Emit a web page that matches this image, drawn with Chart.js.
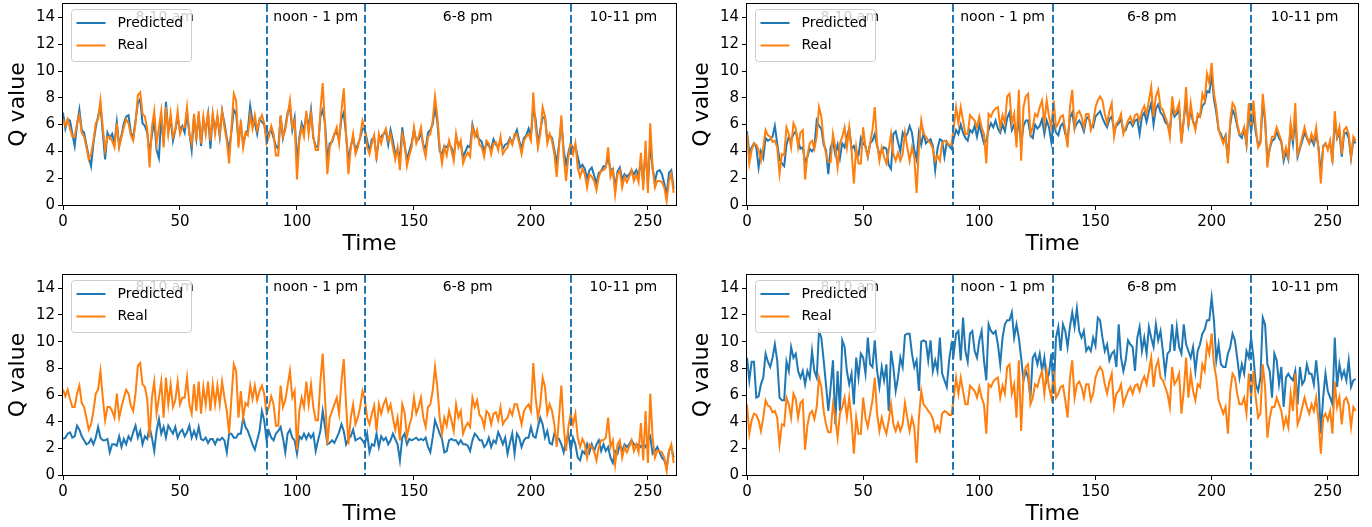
<!DOCTYPE html>
<html>
<head>
<meta charset="utf-8">
<script src="https://cdn.jsdelivr.net/npm/chart.js@4.4.1/dist/chart.umd.min.js"></script>
<style>
  html, body { margin: 0; padding: 0; background: #fff; }
  body { width: 1372px; height: 527px; position: relative; overflow: hidden; }
  canvas { position: absolute; }
</style>
</head>
<body>
<canvas id="tl" width="686" height="257" style="left:0;top:0"></canvas>
<canvas id="tr" width="686" height="257" style="left:684px;top:0"></canvas>
<canvas id="bl" width="686" height="256" style="left:0;top:271px"></canvas>
<canvas id="br" width="686" height="256" style="left:684px;top:271px"></canvas>
<script>
// Real Q values, left column (same series in both left panels)
const realLeft = [
  6.4,5.9,6.4,5.7,5.1,5.1,6.1,6.7,5.4,5.1, 4.3,3.4,3.8,4.8,6.1,6.4,7.8,5.8,4.1,5.1,
  5.1,4.8,4.3,6.1,4.3,5.1,5.8,6.4,6.1,5.2, 4.8,6.1,8.2,8.4,6.8,6.6,5.7,2.8,5.8,7.0,
  4.6,5.8,7.0,4.3,7.3,5.3,6.8,5.1,5.6,7.0, 5.3,5.8,5.8,7.3,5.3,4.6,6.8,4.8,7.0,4.6,
  6.6,5.3,7.0,4.8,6.8,5.3,6.7,5.3,7.0,5.8, 4.8,3.1,5.8,8.3,7.8,4.3,6.3,4.3,5.4,5.2,
  6.7,5.7,6.7,5.6,6.3,6.7,6.1,4.6,
  5.1,5.9,5.3,3.7,3.7,6.7,5.1,5.6,6.7,7.8, 5.8,6.3,1.9,4.8,5.8,5.1,7.0,5.3,6.8,5.1,
  4.1,4.1,7.0,9.1,5.8,2.3,4.3,4.8,5.3,5.8, 4.6,7.0,8.7,5.3,2.3,4.3,5.3,3.8,4.3,5.1,
  6.3,5.7,4.3,3.8,4.6,5.2,3.3,5.3,4.6,5.3, 5.7,4.8,5.3,4.3,3.4,4.3,2.6,5.3,4.7,2.9,
  3.7,4.3,5.8,4.6,5.1,5.8,4.3,3.6,5.1,5.3, 6.3,8.1,6.6,4.3,3.1,4.3,3.7,4.8,4.1,3.3,
  5.3,4.3,4.8,3.1,3.6,3.9,
  3.6,5.8,5.1,5.6,4.5,4.3,3.6,4.8,4.6,3.8, 4.6,4.7,4.1,5.1,3.8,4.1,4.3,4.9,4.5,5.3,
  5.3,4.6,3.8,4.8,5.1,5.3,4.8,8.4,5.8,4.3, 5.3,7.3,6.6,4.6,5.3,4.8,3.8,2.1,4.3,6.7,
  3.6,1.8,3.6,4.6,3.8,4.6,2.8,2.1,2.7,2.3, 1.3,2.3,2.1,1.8,1.1,2.1,2.6,2.6,2.8,4.3,
  2.1,2.6,0.8,2.3,2.6,1.3,2.1,1.7,2.1,2.6, 1.8,2.3,1.7,3.9,1.1,4.8,0.9,6.1,2.8,1.3,
  1.8,1.8,1.7,1.3,0.3,1.8,2.3,0.9
];

// Predicted, top-left panel
const predTopLeft = [
  6.9,5.7,6.4,6.3,5.3,4.4,6.0,7.1,5.6,5.4, 4.5,3.6,2.9,4.6,5.8,6.6,7.4,5.4,3.4,5.4,
  5.0,5.3,4.6,6.2,4.4,5.2,6.1,6.6,6.7,5.4, 5.0,6.3,7.6,7.9,6.1,5.9,5.4,3.9,5.2,6.3,
  4.1,3.5,6.6,4.6,7.7,5.5,6.4,4.8,5.6,6.5, 5.6,5.9,5.4,6.8,5.4,4.1,6.6,5.0,6.7,4.4,
  6.3,5.6,6.8,4.2,6.7,5.6,6.5,5.1,7.0,6.1, 5.0,4.1,5.5,7.1,6.8,4.8,6.0,4.5,5.3,5.6,
  7.4,6.2,6.1,5.3,6.4,6.2,6.0,5.0,
  5.4,5.6,5.0,4.4,4.2,6.6,5.0,5.8,6.9,7.3, 5.6,6.5,3.2,5.0,6.1,5.6,6.7,5.8,7.1,5.0,
  4.4,4.3,6.6,7.1,6.1,3.4,4.6,4.7,5.3,5.4, 4.9,6.4,6.9,5.2,3.3,4.4,5.0,4.1,4.5,5.0,
  5.7,5.6,4.8,4.0,4.9,5.0,3.6,4.9,5.1,5.3, 5.5,4.5,5.6,4.8,3.8,4.1,3.5,5.8,4.4,3.4,
  4.0,4.6,5.6,4.8,4.9,5.4,4.5,4.2,5.4,5.6, 6.0,7.3,6.2,4.0,3.8,4.4,4.3,4.6,4.3,3.6,
  5.0,4.5,4.6,3.6,4.0,4.4,
  4.3,6.0,5.3,5.1,4.9,4.7,3.9,4.7,4.4,4.2, 4.9,4.5,4.4,4.8,4.2,4.5,4.6,5.0,4.6,5.1,
  5.6,4.8,4.2,5.0,5.2,5.7,5.2,7.2,6.4,4.5, 5.6,6.5,6.6,4.9,5.2,5.0,4.1,3.1,4.5,6.2,
  4.1,3.0,3.9,4.6,4.2,4.4,3.6,2.8,3.0,2.7, 2.0,2.6,2.8,2.2,1.6,2.4,2.5,2.9,2.9,3.6,
  2.6,2.7,1.3,2.5,2.8,1.9,2.3,2.1,2.3,2.6, 2.3,2.6,2.2,3.3,1.7,4.1,1.6,4.6,2.7,1.8,
  2.5,2.6,2.3,1.6,0.8,2.4,2.6,1.2
];

// Predicted, bottom-left panel
const predBottomLeft = [
  2.7,2.8,3.1,3.2,2.8,2.9,3.7,3.4,2.9,2.6, 2.3,2.4,2.7,2.3,2.8,3.6,2.8,2.6,2.6,2.7,
  1.7,2.3,2.3,2.2,2.9,2.1,2.7,2.3,2.9,2.6, 3.2,3.7,2.8,3.3,2.3,2.9,2.7,3.6,2.8,1.8,
  3.3,4.2,3.1,3.6,2.8,3.7,3.4,3.1,3.6,2.8, 3.2,3.4,2.9,3.2,3.7,2.8,3.3,2.8,
  3.6,2.7,2.6,2.8,2.4,2.7,2.7,2.3,2.7,2.6, 2.8,2.6,1.7,3.1,3.1,2.8,2.8,3.1,3.1,4.3,
  3.6,3.3,2.8,2.3,1.9,2.6,3.3,4.8,4.1,2.6,
  3.3,2.8,2.6,3.1,3.3,3.6,2.8,1.7,3.1,3.4, 2.8,2.6,1.6,2.9,2.7,3.1,2.7,3.1,2.8,3.1,
  1.8,2.6,3.3,4.8,3.6,2.3,2.4,2.6,2.4,2.8, 3.2,3.8,3.3,2.3,2.7,2.9,3.4,2.6,2.7,2.8,
  2.6,2.3,3.1,1.7,2.3,2.2,3.1,2.1,2.9,2.6, 2.8,2.3,2.6,3.1,2.7,2.3,1.1,2.8,3.1,2.3,
  2.7,2.6,2.7,2.8,2.6,2.7,2.6,2.8,2.1,1.7, 2.8,4.1,3.6,3.1,2.7,1.7,1.8,2.6,2.7,2.6,
  2.6,2.3,2.6,2.3,2.3,2.2,
  1.8,2.6,3.1,2.9,2.6,2.6,2.1,2.3,2.8,2.1, 2.6,2.4,3.2,2.8,2.3,2.8,1.6,2.4,3.1,1.6,
  3.1,2.8,2.1,2.6,2.8,2.8,3.6,2.9,2.8,3.6, 4.3,3.8,2.8,3.3,2.4,2.3,3.1,2.8,2.7,2.3,
  1.7,2.6,3.1,1.8,2.8,2.3,1.3,1.1,1.8,1.6, 2.3,1.7,2.3,1.8,2.3,2.6,1.8,2.3,1.8,2.1,
  1.3,0.9,1.8,1.6,2.3,1.8,2.3,2.1,2.3,2.6, 2.3,2.2,2.3,2.1,2.3,2.1,2.6,2.9,1.6,1.8,
  2.1,1.7,1.3,1.1,0.6,1.8,2.1,1.3
];

// Real Q values, right column (same series in both right panels)
const realRight = [
  5.3,3.1,4.1,4.6,4.5,4.1,3.3,4.3,5.6,5.2, 5.1,4.7,4.8,4.3,2.3,3.8,3.7,5.8,5.3,4.3,
  6.1,5.7,4.3,5.4,5.6,1.9,3.7,4.6,4.8,4.2, 5.1,7.3,6.6,4.8,3.8,3.2,3.2,5.3,4.3,2.8,
  4.6,5.1,5.8,4.3,5.8,4.1,1.6,4.3,3.1,3.1, 5.8,4.3,3.6,4.6,5.6,7.3,4.6,3.3,4.3,3.6,
  3.1,4.1,5.3,3.8,3.3,3.9,3.3,3.8,5.4,4.3, 3.3,4.3,3.6,0.9,4.3,6.3,5.3,5.1,4.8,4.6,
  4.2,3.3,3.7,3.3,4.6,4.8,4.7,4.5,
  4.5,5.8,7.3,6.1,7.3,6.3,5.3,5.3,6.7,6.5, 6.3,5.8,6.6,5.8,5.3,3.1,6.8,6.6,7.0,7.2,
  7.3,5.8,6.7,6.1,8.1,8.3,6.1,6.8,4.3,8.6, 3.3,7.3,8.1,8.3,5.3,5.8,6.8,6.6,7.3,7.8,
  6.1,7.8,6.6,5.8,7.8,5.8,6.1,6.6,6.7,5.6, 4.3,7.3,8.6,5.8,6.8,7.0,6.6,5.8,6.8,6.8,
  5.6,6.1,7.3,7.8,8.1,7.8,6.8,6.1,7.0,7.6, 5.1,6.1,6.3,6.8,5.3,5.8,6.3,6.6,6.1,6.7,
  6.8,6.3,7.0,7.4,6.8,7.8,8.8,
  6.6,8.1,8.6,7.3,7.1,6.6,6.1,5.1,8.1,6.8, 7.1,7.6,4.6,6.3,8.8,5.8,7.6,6.3,5.6,6.8,
  6.6,8.3,7.8,9.8,9.1,10.6,8.3,7.3,5.6,5.1, 4.6,5.1,3.1,6.3,7.6,7.3,6.1,5.3,5.3,5.8,
  4.6,7.6,5.8,7.8,5.8,4.3,4.6,8.3,6.6,2.8, 4.3,5.1,5.1,5.8,5.3,4.8,3.6,4.3,3.6,6.1,
  4.8,7.6,3.8,4.3,5.1,5.8,5.1,4.6,5.3,4.8, 5.8,4.1,1.6,4.3,4.6,4.1,4.8,3.1,7.0,5.1,
  5.8,3.8,5.6,5.8,5.3,3.6,5.1,4.8
];

// Predicted, top-right panel
const predTopRight = [
  5.5,3.9,4.3,4.6,4.3,2.8,4.0,3.5,5.0,4.8, 4.9,5.1,5.9,4.6,3.4,3.1,2.9,4.5,5.1,4.8,
  5.3,5.5,4.8,4.2,4.3,3.2,3.6,4.2,4.0,4.3, 6.3,5.9,5.7,4.5,4.1,2.3,4.3,4.8,3.8,4.5,
  3.5,4.6,4.3,5.1,5.7,4.2,4.4,3.8,3.7,5.0, 4.6,4.4,3.6,4.6,4.8,5.3,4.4,3.8,4.0,4.3,
  4.2,3.0,2.7,5.3,5.5,4.7,4.0,5.4,5.0,5.3, 5.9,5.4,4.1,3.4,5.4,4.5,5.4,4.6,4.8,4.9,
  4.4,2.6,4.2,4.9,4.8,3.6,4.7,4.4,
  4.2,5.0,5.6,5.3,6.0,5.4,5.0,4.8,5.6,5.4, 5.9,5.1,6.0,5.3,4.6,4.8,5.6,6.1,5.8,6.3,
  5.7,5.4,6.0,5.5,6.5,6.9,5.6,6.0,4.9,6.4, 4.5,5.9,6.3,6.3,5.2,5.0,6.0,5.7,5.9,6.4,
  5.3,6.3,5.8,4.7,6.1,5.4,5.2,5.9,6.1,5.3, 4.9,6.5,6.9,5.7,6.1,6.3,6.0,5.5,6.4,6.6,
  5.9,5.8,6.6,6.8,7.0,6.5,6.1,5.8,6.4,6.6, 5.6,5.9,6.1,6.4,5.5,5.6,6.1,6.2,5.9,6.3,
  6.4,5.3,6.6,6.9,6.2,7.0,7.6,
  6.0,7.2,7.5,6.9,6.7,6.2,6.0,5.5,7.3,6.6, 6.8,7.1,4.8,6.4,7.8,6.0,7.1,6.2,5.8,6.6,
  6.6,7.4,7.6,8.5,8.4,9.7,7.9,6.9,5.6,5.3, 4.8,5.2,3.5,6.0,7.1,6.7,5.9,5.2,5.0,5.7,
  4.5,7.0,5.5,6.8,5.4,4.5,4.7,7.6,6.3,3.3, 4.2,4.8,4.9,5.5,5.0,4.7,3.3,4.0,3.4,5.8,
  4.6,6.6,3.6,4.2,4.8,5.4,5.0,4.6,4.9,4.5, 5.3,4.3,2.3,4.4,4.6,4.2,4.6,3.5,6.3,5.0,
  5.4,3.6,5.3,5.4,5.0,3.5,4.8,4.6
];

// Predicted, bottom-right panel
const predBottomRight = [
  8.8,7.1,8.5,8.5,5.8,5.9,6.8,7.3,9.1,8.5, 8.1,8.8,9.8,8.6,5.8,5.6,5.6,8.5,7.8,9.6,
  8.8,9.1,7.8,7.3,7.8,6.8,7.8,7.3,9.3,7.8, 7.3,10.8,10.3,8.6,6.8,4.8,6.6,8.6,3.8,7.8,
  4.8,10.1,9.6,7.8,6.8,7.6,5.3,8.8,7.3,9.1, 8.8,7.6,10.3,8.3,8.1,10.1,7.8,6.6,8.1,7.1,
  8.3,4.8,9.3,8.1,6.3,7.3,8.8,8.1,10.5,10.6, 10.6,9.1,8.1,8.6,6.3,10.0,10.1,10.0,8.6,10.1,
  7.8,8.6,7.8,10.3,7.6,7.1,6.6,8.6,
  9.8,9.1,10.6,10.8,8.6,11.8,9.3,8.5,10.6,10.8, 9.3,8.8,10.1,10.8,8.6,7.1,11.3,10.8,10.6,10.8,
  9.8,8.3,10.3,11.3,11.6,11.6,12.2,10.3,11.3,10.3, 8.8,7.1,7.8,7.3,5.8,8.8,9.1,8.3,9.1,7.8,
  8.8,7.1,7.6,9.1,6.1,10.3,11.1,9.3,11.3,10.8, 9.6,11.1,12.2,11.1,12.5,10.8,10.3,10.8,9.3,9.6,
  9.3,10.3,9.7,11.8,11.6,10.3,9.3,9.8,8.6,9.1, 9.3,8.1,11.3,8.8,7.8,8.6,10.1,9.8,9.6,7.8,
  10.3,11.1,9.3,10.3,9.1,11.1,10.3,
  9.6,11.3,10.1,10.8,9.3,7.6,9.1,9.3,11.3,9.3, 11.1,9.6,9.1,11.3,9.8,9.3,8.8,9.6,7.8,9.3,
  9.8,10.6,10.9,11.6,11.6,13.3,11.6,8.6,9.8,8.3, 8.1,8.1,9.1,9.6,10.6,10.1,8.8,7.3,8.3,7.6,
  9.3,8.8,10.3,8.8,6.8,6.3,7.3,11.8,11.3,8.3, 7.8,5.8,9.1,8.6,6.8,8.1,5.1,7.3,7.6,7.3,
  7.1,7.8,5.3,8.1,6.8,7.1,8.3,7.6,7.6,6.8, 8.6,6.8,3.1,5.8,7.6,6.3,5.8,5.3,10.3,6.6,
  8.3,7.3,7.8,7.1,8.6,6.6,7.1,7.2
];

const periodLabels = ['8-10 am', 'noon - 1 pm', '6-8 pm', '10-11 pm'];
const leftBounds = [87, 129, 217];
const rightBounds = [88.5, 131.5, 217];
const yTicks = [0, 2, 4, 6, 8, 10, 12, 14];
const xTicks = [0, 50, 100, 150, 200, 250];

const BLUE = '#1f77b4';
const ORANGE = '#ff7f0e';
const FONT = 'DejaVu Sans';

function toPoints(vals) {
  return vals.map((v, i) => ({ x: i, y: v }));
}

// no extra room for the outer tick labels, the frame sits at fixed spots
function noScalePadding(s) {
  s.paddingTop = 0;
  s.paddingBottom = 0;
  s.paddingLeft = 0;
  s.paddingRight = 0;
}

// dashed period lines, period names, legend box and the frame
const panelDecor = {
  id: 'panelDecor',
  afterDatasetsDraw(chart, args, opts) {
    const { ctx, chartArea: a, scales: { x, y } } = chart;
    ctx.save();

    ctx.strokeStyle = BLUE;
    ctx.lineWidth = 2;
    ctx.setLineDash([7.7, 3.3]);
    opts.bounds.forEach(b => {
      const px = Math.round(x.getPixelForValue(b));
      ctx.beginPath();
      ctx.moveTo(px, a.top);
      ctx.lineTo(px, a.bottom);
      ctx.stroke();
    });
    ctx.setLineDash([]);

    const edges = [0, ...opts.bounds, opts.xMax];
    ctx.fillStyle = '#000';
    ctx.font = '14px "' + FONT + '"';
    ctx.textAlign = 'center';
    ctx.textBaseline = 'middle';
    periodLabels.forEach((t, i) => {
      ctx.fillText(t, x.getPixelForValue((edges[i] + edges[i + 1]) / 2), y.getPixelForValue(14) - 0.5);
    });

    // legend
    const lx = a.left + 8.5, ly = a.top + 5.5;
    ctx.beginPath();
    if (ctx.roundRect) ctx.roundRect(lx, ly, 120, 52, 3);
    else ctx.rect(lx, ly, 120, 52);
    ctx.fillStyle = 'rgba(255,255,255,0.8)';
    ctx.fill();
    ctx.strokeStyle = '#cccccc';
    ctx.lineWidth = 1;
    ctx.stroke();

    [['Predicted', BLUE], ['Real', ORANGE]].forEach(([label, col], i) => {
      const cy = ly + 13.5 + i * 22.5;
      ctx.strokeStyle = col;
      ctx.lineWidth = 2;
      ctx.beginPath();
      ctx.moveTo(lx + 5, cy);
      ctx.lineTo(lx + 34, cy);
      ctx.stroke();
      ctx.fillStyle = '#000';
      ctx.textAlign = 'left';
      ctx.fillText(label, lx + 46, cy);
    });

    ctx.strokeStyle = '#000';
    ctx.lineWidth = 1;
    ctx.strokeRect(Math.round(a.left) - 0.5, Math.round(a.top) - 0.5,
      Math.round(a.right - a.left) + 1, Math.round(a.bottom - a.top) + 1);
    ctx.restore();
  }
};

function makePanel(id, real, pred, bounds, xMax, rightPad) {
  new Chart(document.getElementById(id), {
    type: 'line',
    data: {
      datasets: [
        { label: 'Real', data: toPoints(real), borderColor: ORANGE, borderWidth: 2, pointRadius: 0, tension: 0 },
        { label: 'Predicted', data: toPoints(pred), borderColor: BLUE, borderWidth: 2, pointRadius: 0, tension: 0 }
      ]
    },
    options: {
      responsive: false,
      animation: false,
      devicePixelRatio: 1,
      events: [],
      layout: { padding: { top: 4, right: rightPad, left: 0, bottom: 0 } },
      plugins: {
        legend: { display: false },
        tooltip: { enabled: false },
        panelDecor: { bounds: bounds, xMax: xMax }
      },
      scales: {
        x: {
          type: 'linear',
          min: 0,
          max: xMax,
          afterBuildTicks: s => { s.ticks = xTicks.map(v => ({ value: v })); },
          afterFit: s => { s.height = 52; noScalePadding(s); },
          border: { display: false },
          grid: { drawOnChartArea: false, drawTicks: true, tickLength: 5, color: '#000', lineWidth: 1 },
          ticks: { color: '#000', font: { family: FONT, size: 15 }, padding: 3, maxRotation: 0, autoSkip: false },
          title: { display: true, text: 'Time', color: '#000', font: { family: FONT, size: 22 }, padding: { top: 0, bottom: 0 } }
        },
        y: {
          min: 0,
          max: 15,
          afterBuildTicks: s => { s.ticks = yTicks.map(v => ({ value: v })); },
          afterFit: s => { s.width = 63; noScalePadding(s); },
          border: { display: false },
          grid: { drawOnChartArea: false, drawTicks: true, tickLength: 5, color: '#000', lineWidth: 1 },
          ticks: { color: '#000', font: { family: FONT, size: 15 }, padding: 3 },
          title: { display: true, text: 'Q value', color: '#000', font: { family: FONT, size: 22 }, padding: { top: 5, bottom: 0 } }
        }
      }
    },
    plugins: [panelDecor]
  });
}

makePanel('tl', realLeft, predTopLeft, leftBounds, 262, 10);
makePanel('tr', realRight, predTopRight, rightBounds, 263, 12);
makePanel('bl', realLeft, predBottomLeft, leftBounds, 262, 10);
makePanel('br', realRight, predBottomRight, rightBounds, 263, 12);
</script>
</body>
</html>
